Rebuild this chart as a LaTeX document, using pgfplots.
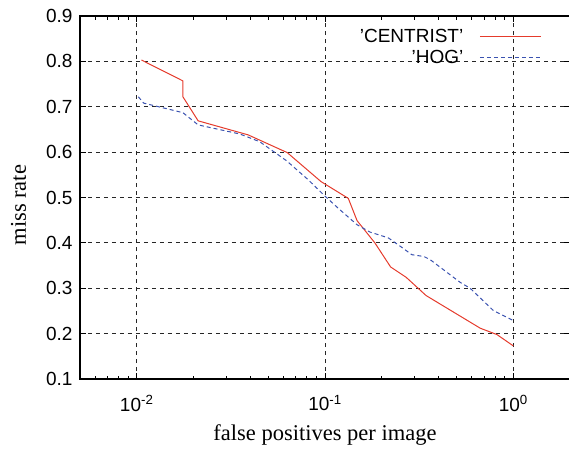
\documentclass[border=0pt]{standalone}
\usepackage{fontspec}
\setmainfont{Liberation Serif}
\setsansfont{Liberation Sans}
\usepackage{pgfplots}
\pgfplotsset{compat=1.18}
\definecolor{centrist}{HTML}{E53B2C}
\definecolor{hog}{HTML}{3A52B0}

\begin{document}
\begin{tikzpicture}
\begin{semilogxaxis}[
  name=main,
  scale only axis,
  width=490pt, height=363pt,
  xmin=0.005, xmax=2,
  ymin=0.1, ymax=0.9,
  xtick={0.01,0.1,1},
  xticklabels={10\textsuperscript{-2},10\textsuperscript{-1},10\textsuperscript{0}},
  minor xtick={0.006,0.007,0.008,0.009,0.02,0.03,0.04,0.05,0.06,0.07,0.08,0.09,0.2,0.3,0.4,0.5,0.6,0.7,0.8,0.9},
  ytick={0.1,0.2,0.3,0.4,0.5,0.6,0.7,0.8,0.9},
  yticklabels={0.1,0.2,0.3,0.4,0.5,0.6,0.7,0.8,0.9},
  tick align=inside,
  major tick length=6pt,
  minor tick length=3.5pt,
  tick style={black, line width=0.8pt},
  grid=major,
  major grid style={black!85, line width=0.8pt, dash pattern=on 4pt off 4pt},
  axis line style={line width=1.1pt},
  tick label style={font=\fontsize{19}{22}\selectfont\sffamily},
  yticklabel style={xshift=-4pt},
  xticklabel style={yshift=-13pt},
  xlabel={false positives per image},
  ylabel={miss rate},
  label style={font=\fontsize{22.5}{26}\selectfont},
  xlabel style={at={(axis description cs:0.5,0)}, anchor=base, yshift=-61pt},
  ylabel style={at={(axis description cs:-0.1255,0.479)}, anchor=center},
  legend style={draw=none, fill=none, at={(axis description cs:0.948,0.975)}, anchor=north east,
    font=\fontsize{19}{22}\selectfont\sffamily, row sep=2pt,
    /tikz/every odd column/.append style={column sep=14pt}},
  legend plot pos=right,
  legend cell align=right,
  legend image code/.code={\draw[#1] (0pt,0pt) -- (61pt,0pt);},
]
\addplot[color=centrist, line width=1pt] coordinates {
  (0.0106, 0.803)
  (0.0176, 0.757)
  (0.0176, 0.722)
  (0.0212, 0.669)
  (0.0391, 0.638)
  (0.063, 0.599)
  (0.0953, 0.535)
  (0.133, 0.498)
  (0.148, 0.449)
  (0.184, 0.400)
  (0.223, 0.347)
  (0.270, 0.324)
  (0.344, 0.284)
  (0.667, 0.212)
  (0.818, 0.198)
  (1.0, 0.173)
};
\addlegendentry{’CENTRIST’}
\addplot[color=hog, line width=1pt, dash pattern=on 4pt off 3pt] coordinates {
  (0.0102, 0.722)
  (0.0109, 0.708)
  (0.0176, 0.687)
  (0.0212, 0.660)
  (0.0353, 0.640)
  (0.045, 0.623)
  (0.0625, 0.581)
  (0.0815, 0.539)
  (0.1, 0.503)
  (0.120, 0.473)
  (0.148, 0.440)
  (0.173, 0.424)
  (0.217, 0.411)
  (0.256, 0.390)
  (0.289, 0.374)
  (0.335, 0.370)
  (0.362, 0.363)
  (0.522, 0.313)
  (0.590, 0.300)
  (0.783, 0.251)
  (1.0, 0.229)
};
\addlegendentry{’HOG’}
\end{semilogxaxis}
\pgfresetboundingbox
\path ([xshift=-80pt,yshift=-69pt]main.south west) rectangle ++(569pt,448pt);
\end{tikzpicture}
\end{document}
